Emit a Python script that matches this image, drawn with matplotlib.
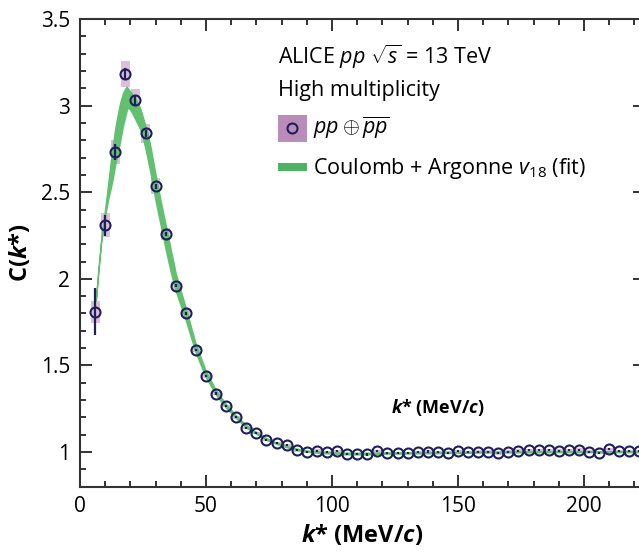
import matplotlib
matplotlib.use('Agg')
import matplotlib.pyplot as plt
from matplotlib.patches import Rectangle
from matplotlib.ticker import MultipleLocator

plt.rcParams['font.family'] = ['Open Sans', 'DejaVu Sans']
plt.rcParams['mathtext.fontset'] = 'custom'
plt.rcParams['mathtext.rm'] = 'Open Sans'
plt.rcParams['mathtext.it'] = 'Open Sans:italic'
plt.rcParams['mathtext.bf'] = 'Open Sans:bold'
plt.rcParams['mathtext.bfit'] = 'Open Sans:bold:italic'

# measured correlation function pp + antip-antip
k_star = [6, 10, 14, 18, 22, 26, 30, 34, 38, 42, 46, 50, 54, 58, 62, 66, 70, 74, 78, 82,
          86, 90, 94, 98, 102, 106, 110, 114, 118, 122, 126, 130, 134, 138, 142, 146, 150,
          154, 158, 162, 166, 170, 174, 178, 182, 186, 190, 194, 198, 202, 206, 210, 214,
          218, 222]
c_k = [1.81, 2.31, 2.733, 3.18, 3.03, 2.84, 2.535, 2.257, 1.96, 1.80, 1.59, 1.44, 1.338,
       1.266, 1.20, 1.139, 1.11, 1.07, 1.052, 1.04,
       1.01, 1.0, 1.008, 1.0, 1.005, 0.987, 0.987, 0.986, 1.004, 0.995, 0.995, 0.995, 0.998,
       1.003, 1.0, 0.996, 1.006, 1.0, 1.002, 1.002, 0.992, 1.002, 1.008, 1.01, 1.01, 1.01,
       1.008, 1.01, 1.014, 1.002, 0.996, 1.016, 1.006, 1.006, 1.006]
stat_err = [0.135, 0.06, 0.045, 0.035, 0.025, 0.02, 0.015, 0.012, 0.01, 0.01] + [0.006] * 45
syst_err = [0.064, 0.07, 0.07, 0.075, 0.065, 0.053, 0.045, 0.035, 0.025, 0.02, 0.015,
            0.012, 0.01] + [0.008] * 42

# fit band (upper / lower envelope)
fit_k = [6.3, 7.3, 8.4, 10, 11.2, 12.3, 13, 14, 15, 16, 17, 18, 18.5, 19, 20, 21, 22, 23,
         24, 25, 26, 27, 28, 30, 32, 34, 36, 38, 42, 46, 50, 54, 58, 62, 66, 70, 74, 78,
         82, 86, 90, 95, 100, 110, 120, 140, 160, 190, 225]
fit_hi = [1.885, 2.055, 2.225, 2.41, 2.55, 2.69, 2.77, 2.87, 2.95, 3.02, 3.07, 3.10,
          3.11, 3.10, 3.08, 3.06, 3.04, 3.01, 2.98, 2.93, 2.88, 2.83, 2.76, 2.60, 2.45,
          2.31, 2.17, 2.03, 1.83, 1.62, 1.465, 1.355, 1.275, 1.21, 1.155, 1.115, 1.08,
          1.055, 1.035, 1.02, 1.009, 1.002, 0.998, 0.996, 0.997, 0.999, 1.003, 1.005, 1.005]
fit_lo = [1.875, 2.045, 2.215, 2.37, 2.46, 2.53, 2.58, 2.66, 2.73, 2.80, 2.88, 2.94,
          2.97, 2.99, 2.975, 2.95, 2.92, 2.89, 2.86, 2.81, 2.75, 2.68, 2.61, 2.45, 2.31,
          2.17, 2.04, 1.93, 1.76, 1.57, 1.43, 1.33, 1.255, 1.195, 1.14, 1.105, 1.07,
          1.047, 1.028, 1.013, 1.002, 0.995, 0.991, 0.989, 0.99, 0.993, 0.997, 0.999, 0.999]

navy = '#1f1f5c'
green = '#62c070'
box_col = '#cfaad0'

fig = plt.figure(figsize=(6.39, 5.54), dpi=100)
ax = fig.add_axes([80 / 639, 1 - 486.7 / 554, 564.5 / 639, 467.7 / 554])

ax.fill_between(fit_k, fit_lo, fit_hi, color=green, lw=1.0, edgecolor=green, zorder=2)

for k, c, s in zip(k_star, c_k, syst_err):
    ax.add_patch(Rectangle((k - 1.8, c - s), 3.6, 2 * s, facecolor=box_col, edgecolor='none',
                           alpha=0.75, zorder=1))

ax.errorbar(k_star, c_k, yerr=stat_err, fmt='o', ms=7.2, mfc='none', mec=navy, mew=1.5,
            ecolor=navy, elinewidth=1.6, capsize=0, zorder=3)

ax.set_xlim(0, 224)
ax.set_ylim(0.8, 3.5)
ax.xaxis.set_major_locator(MultipleLocator(50))
ax.xaxis.set_minor_locator(MultipleLocator(10))
ax.yaxis.set_minor_locator(MultipleLocator(0.1))
ax.set_yticks([1, 1.5, 2, 2.5, 3, 3.5])
ax.set_yticklabels(['1', '1.5', '2', '2.5', '3', '3.5'])
ax.tick_params(which='both', direction='in', top=True, right=True, width=1.4, color='#333333')
ax.tick_params(which='major', length=8.5, labelsize=15, pad=7)
ax.tick_params(which='minor', length=4.5)
for sp in ax.spines.values():
    sp.set_linewidth(1.5)
    sp.set_color('#333333')

ax.set_xlabel(r'$\mathbfit{k}$* (MeV/$\mathbfit{c}$)', fontsize=17, fontweight='bold',
              labelpad=4)
ax.set_ylabel(r'C($\mathbfit{k}$*)', fontsize=17, fontweight='bold', labelpad=6)

# stray label inside the plot
ax.text(0.634, 0.169, r'$\mathbfit{k}$* (MeV/$\mathbfit{c}$)', transform=ax.transAxes,
        fontsize=13, fontweight='bold', ha='center', va='center')

# legend drawn by hand
ax.text(0.350, 0.919, r'ALICE $pp$ $\sqrt{s}$ = 13 TeV', transform=ax.transAxes,
        fontsize=15.5, va='center')
ax.text(0.350, 0.848, 'High multiplicity', transform=ax.transAxes, fontsize=15.5,
        va='center')
ax.add_patch(Rectangle((0.350, 0.737), 0.052, 0.058, transform=ax.transAxes,
                       facecolor='#b98cb9', edgecolor='none', zorder=4))
ax.plot([0.376], [0.766], 'o', ms=7.2, mfc='none', mec=navy, mew=1.5,
        transform=ax.transAxes, zorder=5)
ax.text(0.412, 0.767, r'$pp \oplus \overline{p}\overline{p}$', transform=ax.transAxes,
        fontsize=15.5, va='center')
ax.add_patch(Rectangle((0.350, 0.675), 0.052, 0.017, transform=ax.transAxes,
                       facecolor='#4db264', edgecolor='none', zorder=4))
ax.text(0.412, 0.681, r'Coulomb + Argonne $v_{18}$ (fit)', transform=ax.transAxes,
        fontsize=15.5, va='center')

fig.savefig('out.png', dpi=100)
